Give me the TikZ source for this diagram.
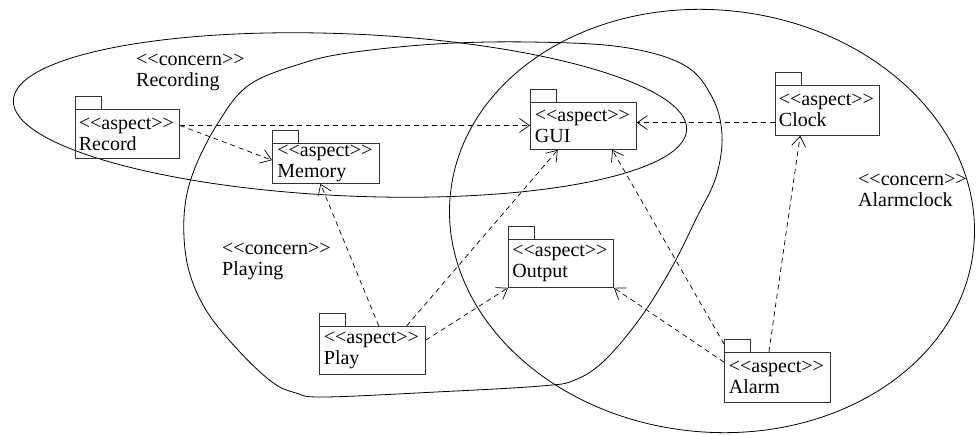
\documentclass[tikz,border=0pt]{standalone}
\usepackage{fontspec}
\setmainfont{Liberation Serif}
\usetikzlibrary{arrows.meta,calc}
% stereotype brackets; the kern keeps << and >> from turning into guillemets
\newcommand\stereo[1]{<\kern0pt<#1>\kern0pt>}

\begin{document}
\begin{tikzpicture}[x=1pt,y=-1pt,
  every node/.style={font=\fontsize{20}{21}\selectfont},
  aspectbox/.style={draw=black!80, line width=0.8pt, anchor=north west,
    text width=97pt, align=left, inner xsep=3.5pt, inner ysep=0pt},
  tabbox/.style={draw=black!80, line width=0.8pt},
  concern/.style={align=left, inner sep=0pt, anchor=west},
  region/.style={draw=black, line width=0.8pt},
  dep/.style={draw=black, line width=0.7pt, dash pattern=on 5pt off 4pt,
    -{Straight Barb[length=10pt,width=14pt]}},
]
\useasboundingbox (0,0) rectangle (976,434);

% concern regions
\draw[region, rotate around={-2.5:(350,115)}] (350,115) ellipse [x radius=337pt, y radius=81pt];
\draw[region, rotate around={-6:(712,221)}] (712,221) ellipse [x radius=263pt, y radius=211pt];
\draw[region] plot[smooth cycle, tension=0.6] coordinates {
  (193,173) (218,123) (249,85) (300,64) (348,53) (436,44) (529,42) (622,47)
  (684,65) (712,97) (722,135) (716,177) (697,217) (672,267) (641,317)
  (605,360) (575,380) (541,386) (436,392) (324,397) (296,393) (272,382)
  (238,350) (206,310) (188,267) (184,217)};

% concern labels
\node[concern] (lrec) at (136,72) {\stereo{concern}\\Recording};
\node[concern] (lplay) at (222,261) {\stereo{concern}\\Playing};
\node[concern] (lalarm) at (858,190) {\stereo{concern}\\Alarmclock};

% aspect packages
\node[aspectbox, minimum width=104pt, minimum height=49pt] (record) at (75,109) {\stereo{aspect}\\Record};
\node[aspectbox, minimum width=107pt, minimum height=40pt] (memory) at (272,143) {\stereo{aspect}\\Memory};
\node[aspectbox, minimum width=106pt, minimum height=47pt] (gui) at (530,102) {\stereo{aspect}\\GUI};
\node[aspectbox, minimum width=104pt, minimum height=50pt] (clock) at (775,85) {\stereo{aspect}\\Clock};
\node[aspectbox, minimum width=105pt, minimum height=48pt] (output) at (508,239) {\stereo{aspect}\\Output};
\node[aspectbox, minimum width=106pt, minimum height=48pt] (play) at (319,326) {\stereo{aspect}\\Play};
\node[aspectbox, minimum width=106pt, minimum height=50pt] (alarm) at (724,352) {\stereo{aspect}\\Alarm};

% package tabs
\foreach \p in {record,memory,gui,clock,output,play,alarm}
  \draw[tabbox] (\p.north west) rectangle ++(26,-12.5);

% dependencies
\coordinate (r1) at ($(record.north east)!0.33!(record.south east)$);
\draw[dep] (r1) -- (r1 -| gui.west);
\draw[dep] (r1) -- ($(memory.north west)!0.42!(memory.south west)$);
\coordinate (c1) at ($(clock.north west)!0.74!(clock.south west)$);
\draw[dep] (c1) -- (c1 -| gui.east);
\draw[dep] ($(play.north west)!0.56!(play.north east)$) -- ($(memory.south west)!0.45!(memory.south east)$);
\draw[dep] ($(play.north west)!0.82!(play.north east)$) -- ($(gui.south west)!0.26!(gui.south east)$);
\draw[dep] ($(play.north east)!0.29!(play.south east)$) -- (output.south west);
\draw[dep] ($(alarm.north west)!0.2!(alarm.south west)$) -- (output.south east);
\draw[dep] ($(alarm.north west)+(0,-8)$) -- ($(gui.south west)!0.77!(gui.south east)$);
\draw[dep] ($(alarm.north west)!0.42!(alarm.north east)$) -- ($(clock.south west)!0.24!(clock.south east)$);
\end{tikzpicture}
\end{document}
